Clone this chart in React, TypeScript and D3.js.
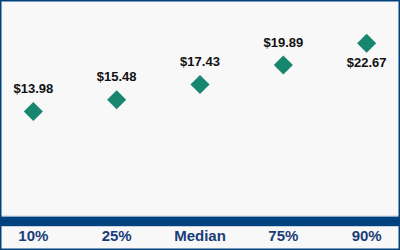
import { useEffect, useRef } from "react"
import * as d3 from "d3"

const categories = ["10%", "25%", "Median", "75%", "90%"]
const values = [13.98, 15.48, 17.43, 19.89, 22.67]
const labelBelow = [false, false, false, false, true]

export default function App() {
    const ref = useRef<SVGSVGElement | null>(null)

    useEffect(() => {
        const host = ref.current
        if (!host) return
        const width = 400
        const height = 250

        const svg = d3.select(host)
        svg.selectAll("*").remove()

        svg.append("rect")
            .attr("x", 0)
            .attr("y", 0)
            .attr("width", width)
            .attr("height", height)
            .attr("fill", "#f8f8f8")

        const x = d3.scalePoint<string>()
            .domain(categories)
            .range([0, width])
            .padding(0.4)

        const y = d3.scaleLinear()
            .domain([0, 28])
            .range([221.5, 1.3])

        // axis band
        svg.append("rect")
            .attr("x", 0)
            .attr("y", 216.8)
            .attr("width", width)
            .attr("height", 9.4)
            .attr("fill", "#00427f")
        svg.append("line")
            .attr("x1", 0)
            .attr("x2", width)
            .attr("y1", 216.3)
            .attr("y2", 216.3)
            .attr("stroke", "#7f9cbc")
            .attr("stroke-width", 1)

        svg.append("g")
            .selectAll("text")
            .data(categories)
            .join("text")
            .attr("x", d => x(d) ?? 0)
            .attr("y", 241)
            .attr("text-anchor", "middle")
            .attr("font-family", "Liberation Sans, Arial, sans-serif")
            .attr("font-size", 15)
            .attr("font-weight", 700)
            .attr("fill", "#1a3d78")
            .text(d => d)

        const pts = categories.map((c, i) => ({ c, v: values[i], below: labelBelow[i] }))
        const diamond = d3.symbol(d3.symbolSquare, 182)

        svg.append("g")
            .selectAll("path")
            .data(pts)
            .join("path")
            .attr("d", diamond() ?? "")
            .attr("transform", d => `translate(${x(d.c)},${y(d.v)}) rotate(45)`)
            .attr("fill", "#16866e")

        svg.append("g")
            .selectAll("text")
            .data(pts)
            .join("text")
            .attr("x", d => x(d.c) ?? 0)
            .attr("y", d => y(d.v) + (d.below ? 23.5 : -18.5))
            .attr("text-anchor", "middle")
            .attr("font-family", "Liberation Sans, Arial, sans-serif")
            .attr("font-size", 13)
            .attr("font-weight", 700)
            .attr("fill", "#111")
            .text(d => `$${d.v.toFixed(2)}`)

        svg.append("rect")
            .attr("x", 0.75)
            .attr("y", 0.75)
            .attr("width", width - 1.5)
            .attr("height", height - 1.5)
            .attr("fill", "none")
            .attr("stroke", "#00427f")
            .attr("stroke-width", 1.5)
    }, [])

    return (
        <div style={{ position: "fixed", left: 0, top: 0, width: 400, height: 250 }}>
            <svg ref={ref} width={400} height={250} style={{ display: "block" }} />
        </div>
    )
}
